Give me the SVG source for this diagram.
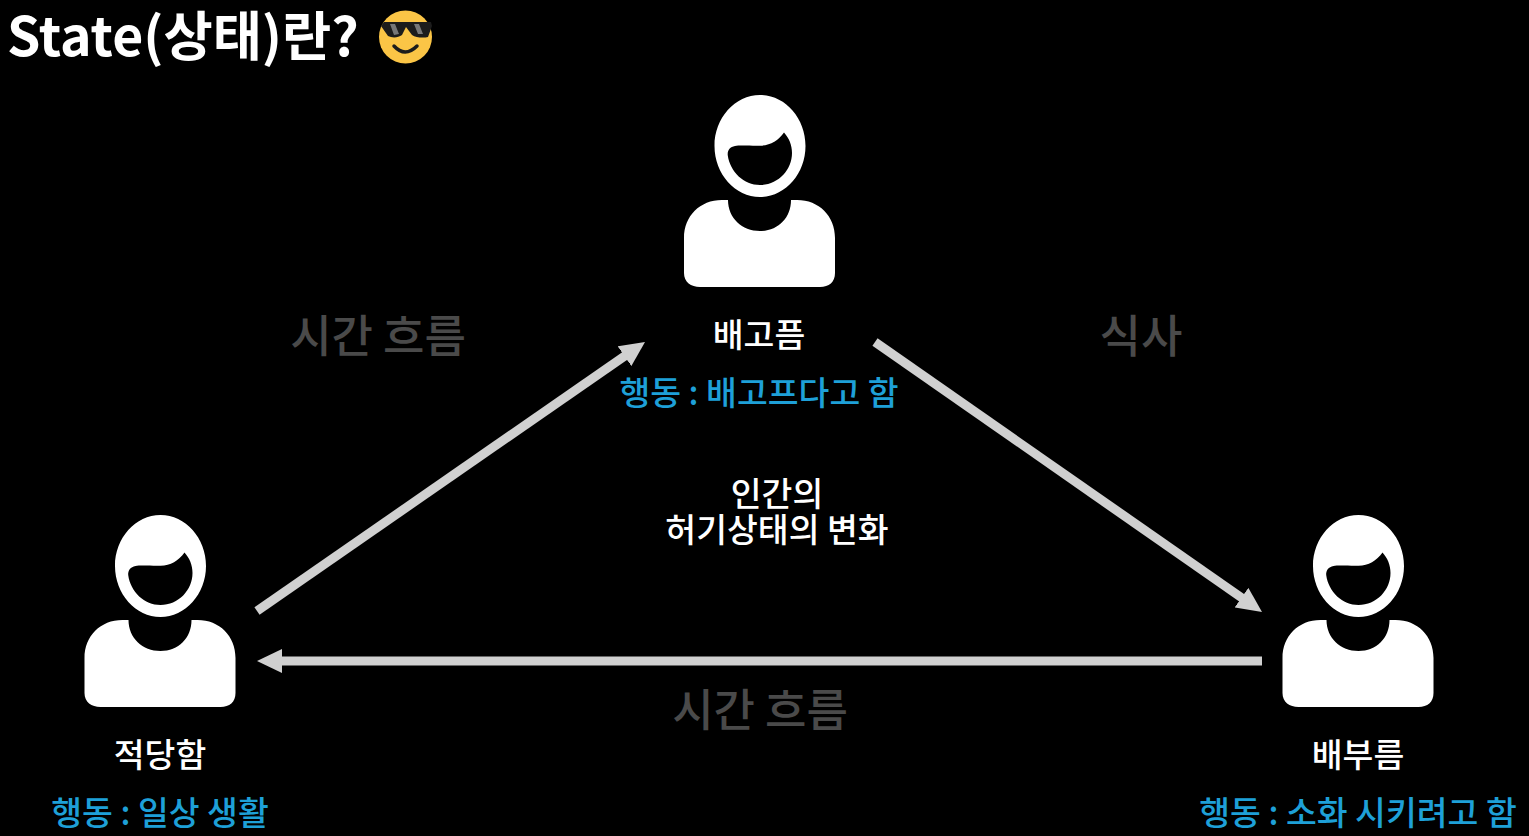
<svg xmlns="http://www.w3.org/2000/svg" width="1529" height="836" viewBox="0 0 1529 836">
<style>
text{font-family:"Noto Sans CJK KR","Noto Sans",sans-serif;text-anchor:middle}
.name{font-size:33.500px;font-weight:500;fill:#fff}
.act{font-size:33.500px;font-weight:500;fill:#1ea0d8}
.flow{font-size:45px;font-weight:500;fill:#4a4a4a}
.conn{stroke:#d0d0d0;stroke-width:9;fill:none;marker-end:url(#arr)}
</style>
<defs>
<marker id="arr" markerUnits="userSpaceOnUse" markerWidth="26" markerHeight="24" refX="10" refY="12" orient="auto">
<path d="M0 0L25 12L0 24Z" fill="#d0d0d0"/>
</marker>
<g id="person">
<path fill-rule="evenodd" fill="#fff" d="M0 -51C25 -51 45.500 -28 45.500 0C45.500 28 25 51 0 51C-25 51 -45.500 28 -45.500 0C-45.500 -28 -25 -51 0 -51ZM24 -13.500C18 -5 10 -0.500 0 -0.300C-8 0 -20 -1 -25 0C-30 1 -32.500 4 -32.300 9C-30 26 -16 39 0 39C18 39 32 24 32 7C32 -1 29 -8 24 -13.500Z"/>
<path fill="#fff" d="M-38 54C-60 54 -76 70 -76 92L-76 127C-76 136 -69 141 -60 141L60 141C69 141 75 136 75 127L75 92C75 70 59 54 37 54L31 54C31 72 18 85 0 85C-18 85 -32 72 -32 54Z"/>
</g>
</defs>
<rect width="1529" height="836" fill="#000"/>
<g id="title">
<text x="7" y="56" style="text-anchor:start;font-size:53.500px;font-weight:700" fill="#fff">State(상태)란?</text>
<g id="emoji">
<circle cx="405.500" cy="37" r="26.500" fill="#fbc546"/>
<path d="M384 22L431 22L432 26L428 37C424 38 416 38 412 35L406 27L402 35C398 38 392 38 388 36L381 26Z" fill="#1c1c1c"/>
<path d="M390 24L395 24L399 34L394 35ZM414 24L419 24L423 34L418 34Z" fill="#777"/>
<path d="M394 46Q405 58 417 46" fill="none" stroke="#1c1c1c" stroke-width="3.500" stroke-linecap="round"/>
</g>
</g>
<g id="connectors">
<path class="conn" d="M257 611L632.700 350.500"/>
<path class="conn" d="M875 342L1249.700 603.400"/>
<path class="conn" d="M1262 661L272 661"/>
</g>
<g id="node-hungry">
<use href="#person" x="760" y="146"/>
<text class="name" x="759" y="347">배고픔</text>
<text class="act" x="759" y="405">행동 : 배고프다고 함</text>
</g>
<g id="node-moderate">
<use href="#person" x="160.500" y="566"/>
<text class="name" x="160" y="767">적당함</text>
<text class="act" x="160" y="825">행동 : 일상 생활</text>
</g>
<g id="node-full">
<use href="#person" x="1358.500" y="566"/>
<text class="name" x="1358" y="767">배부름</text>
<text class="act" x="1358" y="825">행동 : 소화 시키려고 함</text>
</g>
<g id="labels">
<text class="flow" x="378" y="353">시간 흐름</text>
<text class="flow" x="1141" y="353">식사</text>
<text class="flow" x="760" y="727">시간 흐름</text>
<text class="name"><tspan x="777" y="506">인간의</tspan><tspan x="777" y="542">허기상태의 변화</tspan></text>
</g>
</svg>
